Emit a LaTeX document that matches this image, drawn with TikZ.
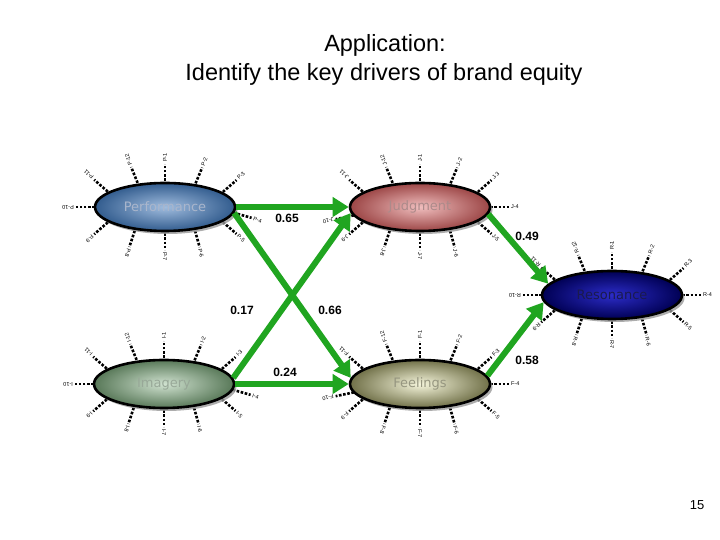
\documentclass[tikz,border=0pt]{standalone}
\usepackage{fontspec}
\setmainfont{Liberation Sans}
\newfontfamily\ellfont{DejaVu Sans}
\usetikzlibrary{shapes.geometric,arrows.meta,shadows}
\definecolor{arrowgreen}{RGB}{32,165,32}
\definecolor{perfIn}{RGB}{160,188,222}
\definecolor{perfOut}{RGB}{50,92,142}
\definecolor{perfTxt}{RGB}{170,182,204}
\definecolor{judgIn}{RGB}{240,190,190}
\definecolor{judgOut}{RGB}{156,70,70}
\definecolor{judgTxt}{RGB}{172,138,138}
\definecolor{resoIn}{RGB}{44,44,200}
\definecolor{resoOut}{RGB}{0,0,84}
\definecolor{resoTxt}{RGB}{26,26,78}
\definecolor{imagIn}{RGB}{208,226,208}
\definecolor{imagOut}{RGB}{88,120,88}
\definecolor{imagTxt}{RGB}{152,168,152}
\definecolor{feelIn}{RGB}{246,246,220}
\definecolor{feelOut}{RGB}{112,112,72}
\definecolor{feelTxt}{RGB}{150,150,128}
\tikzset{
  construct/.style={ellipse, draw=black, line width=2.6pt, minimum width=140pt, minimum height=48pt,
    inner sep=0pt, drop shadow={shadow xshift=2.5pt, shadow yshift=-3pt, fill=black!40, opacity=0.8},
    font=\ellfont\fontsize{13}{13}\selectfont},
  linkarrow/.style={draw=arrowgreen, line width=6pt, -{Triangle[length=16pt,width=19pt]}},
  tickline/.style={line width=2.6pt, dash pattern=on 2.6pt off 1.6pt},
  ticklbl/.style={font=\fontsize{5.5}{5.5}\selectfont, inner sep=0.8pt, anchor=west},
  weight/.style={font=\bfseries\fontsize{12}{12}\selectfont},
  titletext/.style={font=\fontsize{23.5}{28}\selectfont},
}
\newcommand\drawticks[3]{%
  \begin{scope}[shift={(#1,#2)}]
  \foreach \t/\d/\l in {#3}{
    \draw[tickline] ({66*cos(\t)},{22*sin(\t)}) -- ({70*cos(\t)+19*cos(\d)},{24*sin(\t)+19*sin(\d)})
      node[ticklbl, rotate=\d] (lab\l) {\l};
  }
  \end{scope}}
\begin{document}
\begin{tikzpicture}[x=1pt,y=1pt]
\useasboundingbox (0,0) rectangle (720,540);
% title
\node[titletext] (t1) at (385,495) {Application:};
\node[titletext] (t2) at (384,466) {Identify the key drivers of brand equity};
% ticks
\drawticks{165}{333}{145/135/P-11, 113/110/P-12, 90/90/P-1, 64/70/P-2, 34/45/P-3, -12/-18/P-4, -34/-45/P-5, -64/-78/P-6, -90/-90/P-7, -116/-105/P-8, -145/-135/P-9, 180/180/P-10}
\drawticks{420}{333}{145/135/J-11, 113/110/J-12, 90/90/J-1, 64/70/J-2, 34/45/J-3, 0/0/J-4, -34/-45/J-5, -64/-78/J-6, -90/-90/J-7, -116/-105/J-8, -145/-135/J-9, 200/192/J-10}
\drawticks{612}{245}{145/135/R-11, 113/110/R-12, 90/90/R-1, 64/70/R-2, 34/45/R-3, 0/0/R-4, -34/-45/R-5, -64/-78/R-6, -90/-90/R-7, -116/-105/R-8, -145/-135/R-9, 180/180/R-10}
\drawticks{164}{156}{145/135/I-11, 113/110/I-12, 90/90/I-1, 64/70/I-2, 34/45/I-3, -12/-18/I-4, -34/-45/I-5, -64/-78/I-6, -90/-90/I-7, -116/-105/I-8, -145/-135/I-9, 180/180/I-10}
\drawticks{420}{156}{145/135/F-11, 113/110/F-12, 90/90/F-1, 64/70/F-2, 34/45/F-3, 0/0/F-4, -34/-45/F-5, -64/-78/F-6, -90/-90/F-7, -116/-105/F-8, -145/-135/F-9, 200/192/F-10}
% constructs
\node[construct, inner color=perfIn, outer color=perfOut, text=perfTxt] (perf) at (165,333) {Performance};
\node[construct, inner color=judgIn, outer color=judgOut, text=judgTxt] (judg) at (420,333) {Judgment};
\node[construct, inner color=resoIn, outer color=resoOut, text=resoTxt] (reso) at (612,245) {Resonance};
\node[construct, inner color=imagIn, outer color=imagOut, text=imagTxt] (imag) at (164,156) {Imagery};
\node[construct, inner color=feelIn, outer color=feelOut, text=feelTxt] (feel) at (420,156) {Feelings};
% paths
\draw[linkarrow] (perf.east) -- (judg.west);
\draw[linkarrow] (perf.-5) -- (feel.175);
\draw[linkarrow] (imag.5) -- (judg.185);
\draw[linkarrow] (imag.east) -- (feel.west);
\draw[linkarrow] (judg.-6) -- (reso.170);
\draw[linkarrow] (feel.7) -- (reso.186);
% weights
\node[weight] (w1) at (287,322) {0.65};
\node[weight] (w2) at (330,230) {0.66};
\node[weight] (w3) at (242,230) {0.17};
\node[weight] (w4) at (285,168) {0.24};
\node[weight] (w5) at (527,304) {0.49};
\node[weight] (w6) at (527,180) {0.58};
\node[font=\fontsize{13}{13}\selectfont] (pg) at (697,35) {15};
\end{tikzpicture}
\end{document}
